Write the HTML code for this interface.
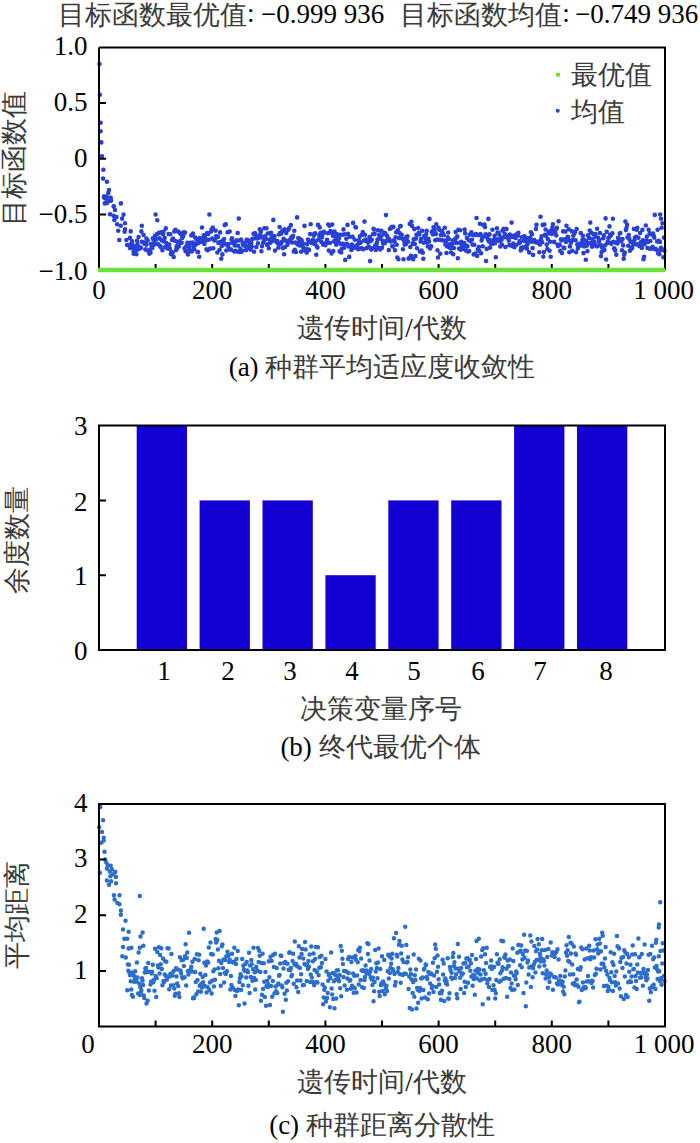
<!DOCTYPE html>
<html><head><meta charset="utf-8"><style>
html,body{margin:0;padding:0;background:#fff;}
body{width:700px;height:1143px;overflow:hidden;font-family:"Liberation Serif",serif;}
svg{display:block;}
</style></head><body>
<svg width="700" height="1143" viewBox="0 0 700 1143" font-family="Liberation Serif">
<text x="58" y="24" font-size="27"><tspan fill="#3a3a3a">目标函数最优值</tspan></text>
<text x="247" y="22" font-size="27">:</text>
<text x="261" y="23" font-size="27">−0.999 936</text>
<text x="399.6" y="24" font-size="27"><tspan fill="#3a3a3a">目标函数均值</tspan></text>
<text x="562.3" y="22" font-size="27">:</text>
<text x="575" y="23" font-size="27">−0.749 936</text>
<path d="M99.5 64.0h0M99.9 94.8h0M100.6 122.8h0M100.6 131.2h0M101.3 142.4h0M102.0 156.4h0M103.4 169.7h0M103.1 178.6h0M106.9 181.7h0M109.0 190.0h0M108.3 192.9h0M104.1 196.4h0M105.5 198.5h0M110.4 197.8h0M107.6 201.3h0M104.8 203.4h0M111.1 200.6h0M120.9 203.4h0M113.9 206.2h0M103.9 197.5h0M106.4 196.8h0M110.7 197.9h0M109.3 200.7h0M105.0 203.2h0M107.1 202.9h0M113.6 206.4h0M115.0 210.0h0M110.0 214.3h0M113.6 215.7h0M116.4 217.1h0M123.6 214.6h0M122.1 218.6h0M114.3 220.0h0M117.1 224.3h0M125.0 223.2h0M120.7 225.7h0M118.2 230.7h0M125.0 229.3h0M124.6 231.8h0M130.7 231.4h0M141.8 225.7h0M119.3 240.0h0M130.0 237.9h0M126.4 240.0h0M132.1 241.4h0M137.1 240.7h0M127.1 245.0h0M130.0 247.9h0M133.6 251.4h0M138.6 249.3h0M133.6 253.6h0M136.4 254.3h0M141.4 231.4h0M143.6 235.0h0M146.4 238.6h0M144.3 242.9h0M145.7 249.3h0M149.3 253.6h0M130.7 244.4h0M131.8 242.8h0M133.0 245.9h0M134.1 249.4h0M135.2 246.9h0M136.4 249.9h0M137.5 244.1h0M138.6 237.0h0M139.8 247.2h0M140.9 247.9h0M142.0 241.7h0M143.1 242.4h0M144.3 243.8h0M145.4 249.6h0M146.5 244.6h0M147.7 240.5h0M148.8 251.9h0M149.9 250.1h0M150.5 252.7h0M151.1 244.1h0M151.6 246.9h0M152.2 248.3h0M152.8 238.3h0M153.3 239.7h0M153.9 244.9h0M154.5 243.5h0M155.0 235.7h0M155.6 214.5h0M156.2 239.4h0M156.7 234.4h0M157.3 220.3h0M157.9 244.0h0M158.4 244.5h0M159.0 232.9h0M159.6 238.4h0M160.1 246.1h0M160.7 246.9h0M161.3 232.2h0M161.8 240.5h0M162.4 250.3h0M163.0 234.2h0M163.5 231.9h0M164.1 241.4h0M164.7 237.9h0M165.2 247.0h0M165.8 228.4h0M166.4 243.1h0M166.9 244.3h0M167.5 248.5h0M168.1 248.6h0M168.6 234.0h0M169.2 244.5h0M169.8 248.4h0M170.3 234.2h0M170.9 254.1h0M171.4 251.8h0M172.0 240.0h0M172.6 252.8h0M173.1 238.6h0M173.7 257.0h0M174.3 231.4h0M174.8 240.8h0M175.4 229.8h0M176.0 250.1h0M176.5 246.4h0M177.1 248.4h0M177.7 241.9h0M178.2 231.6h0M178.8 246.5h0M179.4 241.4h0M179.9 233.0h0M180.5 242.9h0M181.1 234.5h0M181.6 242.7h0M182.2 237.9h0M182.8 234.9h0M183.3 236.0h0M183.9 232.3h0M184.5 248.4h0M185.0 232.6h0M185.6 251.3h0M186.2 246.6h0M186.7 251.1h0M187.3 242.9h0M187.9 254.5h0M188.4 251.6h0M189.0 247.0h0M189.6 249.3h0M190.1 242.8h0M190.7 243.3h0M191.3 235.4h0M191.8 251.4h0M192.4 242.5h0M193.0 233.6h0M193.5 246.2h0M194.1 249.0h0M194.7 244.0h0M195.2 237.6h0M195.8 244.6h0M196.4 239.6h0M196.9 239.0h0M197.5 251.9h0M198.1 252.0h0M198.6 242.9h0M199.2 256.7h0M199.7 238.1h0M200.3 241.9h0M200.9 238.9h0M201.4 239.5h0M202.0 227.5h0M202.6 238.2h0M203.1 240.3h0M203.7 235.3h0M204.3 243.9h0M204.8 236.8h0M205.4 238.9h0M206.0 240.5h0M206.5 249.4h0M207.1 233.1h0M207.7 250.2h0M208.2 234.1h0M208.8 239.7h0M209.4 214.5h0M209.9 248.8h0M210.5 248.5h0M211.1 231.4h0M211.6 229.4h0M212.2 238.6h0M212.8 227.6h0M213.3 248.3h0M213.9 239.8h0M214.5 240.5h0M215.0 239.5h0M215.6 230.6h0M216.2 236.1h0M216.7 236.3h0M217.3 252.5h0M217.9 236.9h0M218.4 243.0h0M219.0 242.4h0M219.6 249.8h0M220.1 232.4h0M220.7 241.7h0M221.3 258.7h0M221.8 246.0h0M222.4 254.4h0M223.0 240.6h0M223.5 241.9h0M224.1 239.1h0M224.7 225.1h0M225.2 244.3h0M225.8 224.4h0M226.3 250.5h0M226.9 244.0h0M227.5 232.3h0M228.0 246.0h0M228.6 244.0h0M229.2 248.7h0M229.7 231.6h0M230.3 249.7h0M230.9 249.4h0M231.4 239.7h0M232.0 238.3h0M232.6 242.6h0M233.1 243.2h0M233.7 242.0h0M234.3 251.4h0M234.8 245.5h0M235.4 250.8h0M236.0 241.3h0M236.5 240.4h0M237.1 251.5h0M237.7 233.0h0M238.2 245.7h0M238.8 218.6h0M239.4 252.0h0M239.9 240.5h0M240.5 249.0h0M241.1 239.5h0M241.6 251.8h0M242.2 250.7h0M242.8 243.9h0M243.3 245.1h0M243.9 242.7h0M244.5 243.8h0M245.0 242.7h0M245.6 246.2h0M246.2 250.1h0M246.7 239.7h0M247.3 248.1h0M247.9 240.1h0M248.4 241.0h0M249.0 245.4h0M249.6 245.0h0M250.1 247.8h0M250.7 249.6h0M251.3 243.0h0M251.8 246.6h0M252.4 238.9h0M253.0 238.7h0M253.5 233.7h0M254.1 251.7h0M254.7 233.3h0M255.2 233.4h0M255.8 235.2h0M256.3 247.0h0M256.9 238.4h0M257.5 238.3h0M258.0 243.3h0M258.6 236.8h0M259.2 237.6h0M259.7 229.3h0M260.3 234.3h0M260.9 231.4h0M261.4 251.2h0M262.0 246.2h0M262.6 237.6h0M263.1 242.7h0M263.7 241.8h0M264.3 228.3h0M264.8 236.3h0M265.4 237.9h0M266.0 238.9h0M266.5 228.3h0M267.1 244.9h0M267.7 233.5h0M268.2 244.0h0M268.8 248.2h0M269.4 233.2h0M269.9 239.8h0M270.5 242.8h0M271.1 232.7h0M271.6 237.1h0M272.2 237.2h0M272.8 240.7h0M273.3 219.9h0M273.9 237.7h0M274.5 236.0h0M275.0 250.6h0M275.6 240.6h0M276.2 241.8h0M276.7 241.4h0M277.3 241.0h0M277.9 243.4h0M278.4 247.7h0M279.0 234.5h0M279.6 227.0h0M280.1 233.0h0M280.7 244.0h0M281.3 233.6h0M281.8 242.0h0M282.4 230.9h0M282.9 248.1h0M283.5 238.9h0M284.1 254.3h0M284.6 229.2h0M285.2 247.0h0M285.8 240.6h0M286.3 233.1h0M286.9 241.4h0M287.5 244.8h0M288.0 242.1h0M288.6 229.6h0M289.2 228.1h0M289.7 240.6h0M290.3 239.4h0M290.9 225.1h0M291.4 237.2h0M292.0 242.5h0M292.6 237.6h0M293.1 235.9h0M293.7 251.5h0M294.3 230.7h0M294.8 249.7h0M295.4 242.6h0M296.0 252.0h0M296.5 243.3h0M297.1 217.4h0M297.7 244.5h0M298.2 238.0h0M298.8 242.2h0M299.4 245.5h0M299.9 238.9h0M300.5 239.7h0M301.1 251.7h0M301.6 240.2h0M302.2 242.8h0M302.8 246.8h0M303.3 243.5h0M303.9 249.4h0M304.5 225.9h0M305.0 250.4h0M305.6 249.0h0M306.2 248.8h0M306.7 252.6h0M307.3 244.1h0M307.9 239.6h0M308.4 249.5h0M309.0 249.9h0M309.6 241.3h0M310.1 234.1h0M310.7 224.3h0M311.2 241.2h0M311.8 243.0h0M312.4 242.4h0M312.9 239.8h0M313.5 234.4h0M314.1 235.4h0M314.6 244.0h0M315.2 233.2h0M315.8 241.4h0M316.3 254.7h0M316.9 246.4h0M317.5 247.6h0M318.0 224.9h0M318.6 239.5h0M319.2 235.5h0M319.7 227.4h0M320.3 233.4h0M320.9 232.8h0M321.4 241.9h0M322.0 237.3h0M322.6 234.4h0M323.1 244.6h0M323.7 231.7h0M324.3 232.3h0M324.8 243.5h0M325.4 245.2h0M326.0 243.5h0M326.5 242.5h0M327.1 239.7h0M327.7 233.2h0M328.2 224.5h0M328.8 250.6h0M329.4 225.7h0M329.9 243.0h0M330.5 231.0h0M331.1 232.6h0M331.6 253.5h0M332.2 224.6h0M332.8 235.8h0M333.3 251.1h0M333.9 241.4h0M334.5 231.6h0M335.0 235.1h0M335.6 239.4h0M336.2 244.8h0M336.7 234.1h0M337.3 236.6h0M337.9 237.6h0M338.4 242.0h0M339.0 238.3h0M339.6 251.4h0M340.1 234.7h0M340.7 243.9h0M341.2 252.5h0M341.8 248.8h0M342.4 234.8h0M342.9 243.9h0M343.5 229.4h0M344.1 247.8h0M344.6 234.3h0M345.2 259.9h0M345.8 244.3h0M346.3 238.8h0M346.9 243.7h0M347.5 224.9h0M348.0 233.9h0M348.6 246.5h0M349.2 256.9h0M349.7 236.8h0M350.3 245.3h0M350.9 246.6h0M351.4 249.9h0M352.0 244.5h0M352.6 236.9h0M353.1 222.9h0M353.7 246.9h0M354.3 247.7h0M354.8 239.8h0M355.4 227.0h0M356.0 227.5h0M356.5 245.5h0M357.1 246.9h0M357.7 244.5h0M358.2 249.3h0M358.8 240.4h0M359.4 241.2h0M359.9 236.4h0M360.5 242.8h0M361.1 248.4h0M361.6 235.0h0M362.2 248.6h0M362.8 232.0h0M363.3 249.2h0M363.9 240.5h0M364.5 221.6h0M365.0 234.7h0M365.6 239.5h0M366.2 241.1h0M366.7 248.1h0M367.3 240.9h0M367.9 242.6h0M368.4 247.1h0M369.0 246.9h0M369.5 237.1h0M370.1 261.1h0M370.7 241.1h0M371.2 249.6h0M371.8 239.8h0M372.4 248.3h0M372.9 234.3h0M373.5 228.7h0M374.1 229.5h0M374.6 233.9h0M375.2 245.6h0M375.8 249.9h0M376.3 244.7h0M376.9 242.9h0M377.5 239.5h0M378.0 230.3h0M378.6 248.0h0M379.2 235.0h0M379.7 238.4h0M380.3 249.5h0M380.9 236.6h0M381.4 230.9h0M382.0 247.8h0M382.6 240.7h0M383.1 243.6h0M383.7 234.1h0M384.3 232.8h0M384.8 243.2h0M385.4 233.4h0M386.0 215.1h0M386.5 240.9h0M387.1 236.0h0M387.7 239.7h0M388.2 238.3h0M388.8 250.1h0M389.4 239.4h0M389.9 229.0h0M390.5 241.5h0M391.1 227.9h0M391.6 227.0h0M392.2 246.0h0M392.8 246.5h0M393.3 226.9h0M393.9 240.2h0M394.5 241.6h0M395.0 250.3h0M395.6 237.2h0M396.1 232.3h0M396.7 244.8h0M397.3 257.5h0M397.8 230.3h0M398.4 259.3h0M399.0 238.1h0M399.5 233.0h0M400.1 226.4h0M400.7 226.1h0M401.2 236.4h0M401.8 234.7h0M402.4 238.8h0M402.9 249.3h0M403.5 259.3h0M404.1 240.9h0M404.6 244.6h0M405.2 240.9h0M405.8 244.3h0M406.3 237.1h0M406.9 237.9h0M407.5 236.2h0M408.0 241.8h0M408.6 258.6h0M409.2 258.1h0M409.7 224.0h0M410.3 247.0h0M410.9 255.7h0M411.4 221.8h0M412.0 226.0h0M412.6 243.6h0M413.1 259.3h0M413.7 239.4h0M414.3 229.1h0M414.8 244.0h0M415.4 256.1h0M416.0 238.6h0M416.5 234.7h0M417.1 248.2h0M417.7 234.2h0M418.2 228.0h0M418.8 232.9h0M419.4 234.2h0M419.9 251.6h0M420.5 241.6h0M421.1 238.9h0M421.6 250.5h0M422.2 230.7h0M422.8 252.8h0M423.3 258.8h0M423.9 242.8h0M424.4 235.7h0M425.0 236.3h0M425.6 238.8h0M426.1 234.2h0M426.7 230.7h0M427.3 241.9h0M427.8 246.4h0M428.4 238.7h0M429.0 241.6h0M429.5 218.9h0M430.1 248.5h0M430.7 246.3h0M431.2 246.4h0M431.8 232.0h0M432.4 231.4h0M432.9 234.4h0M433.5 227.3h0M434.1 228.5h0M434.6 230.2h0M435.2 240.3h0M435.8 233.9h0M436.3 224.3h0M436.9 239.6h0M437.5 250.3h0M438.0 257.5h0M438.6 227.9h0M439.2 229.7h0M439.7 239.7h0M440.3 253.7h0M440.9 234.9h0M441.4 240.1h0M442.0 230.9h0M442.6 233.1h0M443.1 240.3h0M443.7 234.9h0M444.3 240.8h0M444.8 227.8h0M445.4 244.6h0M446.0 240.9h0M446.5 253.0h0M447.1 246.5h0M447.7 237.4h0M448.2 232.5h0M448.8 239.1h0M449.4 244.2h0M449.9 247.7h0M450.5 247.9h0M451.1 252.5h0M451.6 244.3h0M452.2 243.8h0M452.8 240.6h0M453.3 254.2h0M453.9 248.0h0M454.4 239.6h0M455.0 240.0h0M455.6 232.0h0M456.1 242.9h0M456.7 237.4h0M457.3 236.4h0M457.8 258.2h0M458.4 229.8h0M459.0 248.5h0M459.5 242.7h0M460.1 230.2h0M460.7 249.7h0M461.2 241.8h0M461.8 246.2h0M462.4 245.2h0M462.9 248.8h0M463.5 246.6h0M464.1 243.0h0M464.6 229.5h0M465.2 233.4h0M465.8 250.4h0M466.3 245.5h0M466.9 238.1h0M467.5 246.3h0M468.0 251.6h0M468.6 240.0h0M469.2 251.1h0M469.7 234.7h0M470.3 241.1h0M470.9 234.0h0M471.4 232.3h0M472.0 239.8h0M472.6 244.6h0M473.1 235.0h0M473.7 254.4h0M474.3 244.8h0M474.8 235.0h0M475.4 253.6h0M476.0 234.1h0M476.5 218.0h0M477.1 255.9h0M477.7 249.4h0M478.2 235.2h0M478.8 247.1h0M479.4 251.0h0M479.9 223.8h0M480.5 234.1h0M481.1 253.3h0M481.6 240.5h0M482.2 238.1h0M482.7 246.2h0M483.3 225.1h0M483.9 236.6h0M484.4 224.5h0M485.0 227.1h0M485.6 234.3h0M486.1 261.0h0M486.7 248.9h0M487.3 237.6h0M487.8 239.5h0M488.4 218.9h0M489.0 241.6h0M489.5 234.4h0M490.1 247.6h0M490.7 240.3h0M491.2 243.7h0M491.8 243.8h0M492.4 229.7h0M492.9 240.6h0M493.5 243.6h0M494.1 239.7h0M494.6 235.9h0M495.2 242.9h0M495.8 257.3h0M496.3 240.3h0M496.9 228.3h0M497.5 232.8h0M498.0 239.4h0M498.6 232.9h0M499.2 234.5h0M499.7 241.3h0M500.3 246.4h0M500.9 237.4h0M501.4 240.0h0M502.0 244.7h0M502.6 230.6h0M503.1 230.4h0M503.7 228.7h0M504.3 237.2h0M504.8 234.0h0M505.4 247.0h0M506.0 229.0h0M506.5 229.1h0M507.1 237.4h0M507.7 236.3h0M508.2 235.7h0M508.8 240.6h0M509.4 245.1h0M509.9 234.6h0M510.5 236.1h0M511.0 236.8h0M511.6 222.6h0M512.2 246.0h0M512.7 237.0h0M513.3 243.6h0M513.9 235.5h0M514.4 247.3h0M515.0 235.6h0M515.6 237.9h0M516.1 245.0h0M516.7 234.3h0M517.3 234.3h0M517.8 235.8h0M518.4 232.8h0M519.0 243.2h0M519.5 241.1h0M520.1 242.2h0M520.7 250.4h0M521.2 247.9h0M521.8 237.2h0M522.4 248.6h0M522.9 247.3h0M523.5 236.5h0M524.1 240.8h0M524.6 236.2h0M525.2 237.5h0M525.8 241.2h0M526.3 246.1h0M526.9 248.6h0M527.5 244.3h0M528.0 238.4h0M528.6 240.0h0M529.2 252.4h0M529.7 240.2h0M530.3 237.5h0M530.9 232.3h0M531.4 241.7h0M532.0 234.3h0M532.6 248.1h0M533.1 254.9h0M533.7 241.0h0M534.3 240.1h0M534.8 241.2h0M535.4 242.2h0M536.0 228.9h0M536.5 224.8h0M537.1 242.6h0M537.6 241.9h0M538.2 241.7h0M538.8 242.9h0M539.3 252.2h0M539.9 244.6h0M540.5 216.8h0M541.0 239.5h0M541.6 236.4h0M542.2 242.3h0M542.7 224.9h0M543.3 256.6h0M543.9 252.0h0M544.4 224.5h0M545.0 234.7h0M545.6 229.5h0M546.1 236.1h0M546.7 244.6h0M547.3 249.0h0M547.8 239.1h0M548.4 233.2h0M549.0 231.7h0M549.5 250.7h0M550.1 241.7h0M550.7 256.8h0M551.2 230.5h0M551.8 234.0h0M552.4 227.5h0M552.9 224.2h0M553.5 229.6h0M554.1 241.9h0M554.6 230.5h0M555.2 232.7h0M555.8 229.5h0M556.3 235.4h0M556.9 227.9h0M557.5 244.6h0M558.0 246.1h0M558.6 221.3h0M559.2 244.9h0M559.7 245.1h0M560.3 250.9h0M560.9 239.3h0M561.4 240.5h0M562.0 253.0h0M562.6 239.6h0M563.1 231.4h0M563.7 247.6h0M564.3 248.2h0M564.8 239.3h0M565.4 231.6h0M566.0 241.9h0M566.5 225.7h0M567.1 240.0h0M567.6 236.8h0M568.2 237.4h0M568.8 229.3h0M569.3 252.3h0M569.9 246.4h0M570.5 241.4h0M571.0 242.8h0M571.6 231.0h0M572.2 250.7h0M572.7 240.1h0M573.3 235.8h0M573.9 234.2h0M574.4 233.2h0M575.0 232.1h0M575.6 240.2h0M576.1 252.2h0M576.7 229.0h0M577.3 244.6h0M577.8 248.5h0M578.4 244.7h0M579.0 245.6h0M579.5 243.6h0M580.1 245.7h0M580.7 233.0h0M581.2 244.7h0M581.8 243.4h0M582.4 239.9h0M582.9 235.9h0M583.5 253.1h0M584.1 246.5h0M584.6 240.1h0M585.2 244.8h0M585.8 259.7h0M586.3 241.3h0M586.9 245.6h0M587.5 251.1h0M588.0 235.4h0M588.6 243.3h0M589.2 237.9h0M589.7 230.6h0M590.3 222.6h0M590.9 242.9h0M591.4 232.8h0M592.0 246.8h0M592.6 239.2h0M593.1 244.3h0M593.7 234.4h0M594.2 241.7h0M594.8 244.6h0M595.4 234.0h0M595.9 236.8h0M596.5 246.2h0M597.1 228.7h0M597.6 246.2h0M598.2 237.7h0M598.8 241.7h0M599.3 240.0h0M599.9 233.0h0M600.5 244.7h0M601.0 256.1h0M601.6 252.0h0M602.2 247.7h0M602.7 246.8h0M603.3 238.3h0M603.9 235.4h0M604.4 250.1h0M605.0 245.4h0M605.6 218.4h0M606.1 259.5h0M606.7 231.8h0M607.3 243.1h0M607.8 241.5h0M608.4 237.8h0M609.0 237.7h0M609.5 226.4h0M610.1 234.9h0M610.7 235.8h0M611.2 243.7h0M611.8 242.5h0M612.4 233.2h0M612.9 218.8h0M613.5 241.9h0M614.1 248.4h0M614.6 249.0h0M615.2 250.5h0M615.8 242.7h0M616.3 254.7h0M616.9 242.2h0M617.5 243.5h0M618.0 237.7h0M618.6 239.9h0M619.2 239.6h0M619.7 233.6h0M620.3 233.1h0M620.9 239.4h0M621.4 241.3h0M622.0 250.2h0M622.5 239.1h0M623.1 245.4h0M623.7 258.7h0M624.2 254.8h0M624.8 252.6h0M625.4 221.6h0M625.9 230.1h0M626.5 228.0h0M627.1 224.8h0M627.6 237.4h0M628.2 245.8h0M628.8 235.0h0M629.3 238.9h0M629.9 250.7h0M630.5 241.6h0M631.0 249.0h0M631.6 247.5h0M632.2 248.1h0M632.7 242.6h0M633.3 244.6h0M633.9 229.0h0M634.4 240.2h0M635.0 237.5h0M635.6 244.2h0M636.1 236.9h0M636.7 229.7h0M637.3 227.7h0M637.8 244.8h0M638.4 237.7h0M639.0 243.7h0M639.5 246.2h0M640.1 233.0h0M640.7 242.4h0M641.2 246.7h0M641.8 247.9h0M642.4 229.9h0M642.9 240.4h0M643.5 259.2h0M644.1 256.8h0M644.6 244.2h0M645.2 240.9h0M645.8 225.5h0M646.3 240.2h0M646.9 236.6h0M647.5 248.0h0M648.0 241.9h0M648.6 229.8h0M649.2 248.6h0M649.7 233.3h0M650.3 241.0h0M650.9 234.1h0M651.4 234.4h0M652.0 248.7h0M652.5 246.7h0M653.1 233.5h0M653.7 235.8h0M654.2 237.6h0M654.8 214.9h0M655.4 248.9h0M655.9 249.5h0M656.5 249.6h0M657.1 241.4h0M657.6 229.7h0M658.2 253.5h0M658.8 240.8h0M659.3 254.3h0M659.9 241.9h0M660.5 250.0h0M661.0 247.8h0M661.6 227.8h0M662.2 249.3h0M662.7 249.8h0M663.3 257.3h0M663.9 237.6h0M664.4 250.7h0M660.2 214.5h0M661.0 218.8h0M662.5 223.2h0" stroke="#2840d4" stroke-width="4.6" stroke-linecap="round" fill="none"/>
<g stroke="#000" stroke-width="2" fill="none">
<path d="M99 47.5H665V270M99 47.5V270"/>
<path d="M155.6 270v-6M212.2 270v-6M268.8 270v-6M325.4 270v-6M382.0 270v-6M438.6 270v-6M495.2 270v-6M551.8 270v-6M608.4 270v-6M99 103.1h7M99 158.8h7M99 214.4h7"/>
</g>
<path d="M98 270H665" stroke="#6ee03a" stroke-width="4.5"/>
<text x="87.5" y="54.5" font-size="27" text-anchor="end">1.0</text>
<text x="87.5" y="110.6" font-size="27" text-anchor="end">0.5</text>
<text x="87.5" y="167.2" font-size="27" text-anchor="end">0</text>
<text x="87.5" y="222.9" font-size="27" text-anchor="end">−0.5</text>
<text x="87.5" y="279.5" font-size="27" text-anchor="end">−1.0</text>
<text x="99.0" y="298.5" font-size="27" text-anchor="middle">0</text>
<text x="212.2" y="298.5" font-size="27" text-anchor="middle">200</text>
<text x="325.4" y="298.5" font-size="27" text-anchor="middle">400</text>
<text x="438.6" y="298.5" font-size="27" text-anchor="middle">600</text>
<text x="551.8" y="298.5" font-size="27" text-anchor="middle">800</text>
<text x="663.5" y="298.5" font-size="27" text-anchor="middle">1 000</text>
<text x="382" y="337" font-size="27" text-anchor="middle"><tspan fill="#3a3a3a">遗传时间</tspan>/<tspan fill="#3a3a3a">代数</tspan></text>
<text x="382" y="376" font-size="27" text-anchor="middle">(a) <tspan fill="#3a3a3a">种群平均适应度收敛性</tspan></text>
<text transform="translate(23 158) rotate(-90)" font-size="27" text-anchor="middle"><tspan fill="#3a3a3a">目标函数值</tspan></text>
<rect x="556" y="72.8" width="4" height="3.8" fill="#6ee03a"/>
<circle cx="557.7" cy="110.7" r="2" fill="#2840d4"/>
<text x="571" y="84" font-size="27"><tspan fill="#3a3a3a">最优值</tspan></text>
<text x="571" y="121" font-size="27"><tspan fill="#3a3a3a">均值</tspan></text>
<rect x="136.7" y="425.6" width="50.3" height="224.4" fill="#1300d2"/>
<rect x="199.6" y="500.4" width="50.3" height="149.6" fill="#1300d2"/>
<rect x="262.5" y="500.4" width="50.3" height="149.6" fill="#1300d2"/>
<rect x="325.4" y="575.2" width="50.3" height="74.8" fill="#1300d2"/>
<rect x="388.3" y="500.4" width="50.3" height="149.6" fill="#1300d2"/>
<rect x="451.2" y="500.4" width="50.3" height="149.6" fill="#1300d2"/>
<rect x="514.1" y="425.6" width="50.3" height="224.4" fill="#1300d2"/>
<rect x="577.0" y="425.6" width="50.3" height="224.4" fill="#1300d2"/>
<path d="M99 425.6H665V650H99ZM99 575.2h7M99 500.4h7" stroke="#000" stroke-width="2" fill="none"/>
<text x="87.5" y="659.5" font-size="27" text-anchor="end">0</text>
<text x="87.5" y="585.2" font-size="27" text-anchor="end">1</text>
<text x="87.5" y="510.9" font-size="27" text-anchor="end">2</text>
<text x="87.5" y="434.6" font-size="27" text-anchor="end">3</text>
<text x="164.0" y="680" font-size="27" text-anchor="middle">1</text>
<text x="228.0" y="680" font-size="27" text-anchor="middle">2</text>
<text x="290.0" y="680" font-size="27" text-anchor="middle">3</text>
<text x="352.0" y="680" font-size="27" text-anchor="middle">4</text>
<text x="414.0" y="680" font-size="27" text-anchor="middle">5</text>
<text x="478.0" y="680" font-size="27" text-anchor="middle">6</text>
<text x="540.0" y="680" font-size="27" text-anchor="middle">7</text>
<text x="606.0" y="680" font-size="27" text-anchor="middle">8</text>
<text x="380.5" y="718" font-size="27" text-anchor="middle"><tspan fill="#3a3a3a">决策变量序号</tspan></text>
<text x="380.5" y="756" font-size="27" text-anchor="middle">(b) <tspan fill="#3a3a3a">终代最优个体</tspan></text>
<text transform="translate(26 540) rotate(-90)" font-size="27" text-anchor="middle"><tspan fill="#3a3a3a">余度数量</tspan></text>
<path d="M100.3 807.0h0M103.1 820.3h0M99.2 827.3h0M102.0 831.9h0M103.7 837.8h0M103.7 840.6h0M101.3 842.7h0M104.5 851.8h0M99.9 872.8h0M105.1 859.5h0M106.2 862.3h0M107.6 865.1h0M110.7 865.8h0M106.9 868.6h0M111.8 869.3h0M109.7 871.4h0M115.3 872.1h0M113.2 874.2h0M110.4 876.3h0M116.0 877.0h0M106.9 880.5h0M111.1 881.2h0M109.0 884.7h0M116.0 883.3h0M139.8 895.9h0M113.9 895.2h0M119.5 895.2h0M114.6 899.4h0M117.4 902.9h0M119.5 904.3h0M120.9 910.6h0M120.9 914.8h0M125.5 920.7h0M123.0 929.6h0M128.6 931.7h0M124.4 938.7h0M127.2 938.7h0M123.0 947.1h0M128.6 948.5h0M131.4 947.8h0M122.3 956.2h0M125.8 957.6h0M142.6 932.4h0M140.5 936.6h0M139.8 947.8h0M143.3 945.7h0M127.3 990.2h0M127.9 964.6h0M128.4 970.7h0M129.0 964.7h0M129.6 973.3h0M130.1 975.2h0M130.7 981.2h0M131.3 989.4h0M131.8 995.0h0M132.4 972.6h0M133.0 996.8h0M133.5 975.1h0M134.1 981.7h0M134.7 978.1h0M135.2 971.2h0M135.8 977.5h0M136.4 981.4h0M136.9 962.4h0M137.5 977.6h0M138.1 993.5h0M138.6 952.6h0M139.2 983.6h0M139.8 995.0h0M140.3 987.2h0M140.9 992.1h0M141.4 990.2h0M142.0 978.3h0M142.6 980.5h0M143.1 985.1h0M143.7 995.6h0M144.3 997.9h0M144.8 972.6h0M145.4 968.6h0M146.0 968.1h0M146.5 1003.4h0M147.1 972.0h0M147.7 1000.7h0M148.2 962.9h0M148.8 990.5h0M149.4 971.7h0M149.9 971.9h0M150.5 984.5h0M151.1 981.4h0M151.6 973.4h0M152.2 971.8h0M152.8 964.7h0M153.3 982.3h0M153.9 980.0h0M154.5 990.7h0M155.0 948.7h0M155.6 976.1h0M156.2 996.9h0M156.7 977.9h0M157.3 952.1h0M157.9 965.6h0M158.4 967.4h0M159.0 947.3h0M159.6 973.6h0M160.1 954.9h0M160.7 964.2h0M161.3 948.3h0M161.8 969.0h0M162.4 985.3h0M163.0 958.4h0M163.5 981.0h0M164.1 981.9h0M164.7 974.5h0M165.2 961.2h0M165.8 975.8h0M166.4 961.7h0M166.9 979.4h0M167.5 948.3h0M168.1 948.6h0M168.6 948.5h0M169.2 989.3h0M169.8 976.6h0M170.3 973.9h0M170.9 985.5h0M171.4 954.1h0M172.0 973.6h0M172.6 975.4h0M173.1 985.2h0M173.7 970.9h0M174.3 988.5h0M174.8 995.7h0M175.4 993.8h0M176.0 968.2h0M176.5 976.6h0M177.1 983.4h0M177.7 969.4h0M178.2 985.9h0M178.8 993.2h0M179.4 997.1h0M179.9 957.3h0M180.5 970.4h0M181.1 973.2h0M181.6 960.2h0M182.2 977.3h0M182.8 978.2h0M183.3 959.8h0M183.9 965.9h0M184.5 977.2h0M185.0 956.2h0M185.6 944.3h0M186.2 985.5h0M186.7 958.1h0M187.3 952.5h0M187.9 971.1h0M188.4 974.5h0M189.0 932.8h0M189.6 971.2h0M190.1 970.7h0M190.7 968.9h0M191.3 966.8h0M191.8 971.6h0M192.4 961.7h0M193.0 998.2h0M193.5 997.5h0M194.1 997.9h0M194.7 959.0h0M195.2 972.1h0M195.8 982.1h0M196.4 994.2h0M196.9 954.2h0M197.5 980.0h0M198.1 991.6h0M198.6 960.2h0M199.2 954.8h0M199.7 985.8h0M200.3 973.7h0M200.9 991.8h0M201.4 983.8h0M202.0 987.5h0M202.6 977.0h0M203.1 982.2h0M203.7 928.7h0M204.3 962.8h0M204.8 986.0h0M205.4 975.1h0M206.0 965.5h0M206.5 992.6h0M207.1 961.6h0M207.7 987.3h0M208.2 962.4h0M208.8 947.4h0M209.4 990.1h0M209.9 982.5h0M210.5 942.5h0M211.1 953.9h0M211.6 993.4h0M212.2 980.7h0M212.8 954.4h0M213.3 971.2h0M213.9 986.4h0M214.5 969.5h0M215.0 979.7h0M215.6 938.9h0M216.2 942.5h0M216.7 932.6h0M217.3 940.0h0M217.9 949.6h0M218.4 968.2h0M219.0 960.7h0M219.6 930.9h0M220.1 974.1h0M220.7 985.8h0M221.3 962.9h0M221.8 946.2h0M222.4 944.6h0M223.0 968.1h0M223.5 959.5h0M224.1 982.5h0M224.7 973.1h0M225.2 959.9h0M225.8 974.0h0M226.3 956.2h0M226.9 971.3h0M227.5 951.8h0M228.0 956.3h0M228.6 954.9h0M229.2 962.1h0M229.7 959.8h0M230.3 989.6h0M230.9 976.1h0M231.4 985.1h0M232.0 953.8h0M232.6 987.5h0M233.1 962.5h0M233.7 961.8h0M234.3 947.7h0M234.8 990.0h0M235.4 995.9h0M236.0 964.0h0M236.5 959.1h0M237.1 991.0h0M237.7 951.1h0M238.2 989.5h0M238.8 1005.2h0M239.4 982.1h0M239.9 978.0h0M240.5 974.2h0M241.1 990.1h0M241.6 976.2h0M242.2 959.0h0M242.8 985.2h0M243.3 965.7h0M243.9 969.7h0M244.5 1003.6h0M245.0 971.1h0M245.6 963.7h0M246.2 977.4h0M246.7 962.1h0M247.3 970.4h0M247.9 972.3h0M248.4 985.7h0M249.0 952.7h0M249.6 993.1h0M250.1 965.6h0M250.7 977.1h0M251.3 960.0h0M251.8 964.2h0M252.4 980.7h0M253.0 969.3h0M253.5 947.8h0M254.1 978.1h0M254.7 972.2h0M255.2 989.4h0M255.8 980.0h0M256.3 966.7h0M256.9 971.1h0M257.5 970.5h0M258.0 948.1h0M258.6 961.9h0M259.2 950.8h0M259.7 955.8h0M260.3 972.1h0M260.9 1000.7h0M261.4 963.1h0M262.0 994.7h0M262.6 953.7h0M263.1 988.9h0M263.7 963.2h0M264.3 981.7h0M264.8 996.9h0M265.4 971.9h0M266.0 1005.8h0M266.5 986.0h0M267.1 981.0h0M267.7 986.9h0M268.2 984.3h0M268.8 961.2h0M269.4 977.2h0M269.9 1005.1h0M270.5 956.7h0M271.1 986.0h0M271.6 960.9h0M272.2 996.8h0M272.8 980.9h0M273.3 954.7h0M273.9 967.0h0M274.5 993.2h0M275.0 953.8h0M275.6 986.5h0M276.2 991.2h0M276.7 968.0h0M277.3 992.9h0M277.9 984.4h0M278.4 983.5h0M279.0 975.7h0M279.6 974.9h0M280.1 963.6h0M280.7 955.6h0M281.3 956.0h0M281.8 985.5h0M282.4 987.2h0M282.9 1011.8h0M283.5 968.4h0M284.1 963.1h0M284.6 993.8h0M285.2 962.0h0M285.8 999.8h0M286.3 982.8h0M286.9 990.4h0M287.5 963.8h0M288.0 981.2h0M288.6 969.8h0M289.2 952.8h0M289.7 952.2h0M290.3 970.2h0M290.9 967.9h0M291.4 976.3h0M292.0 974.9h0M292.6 961.1h0M293.1 953.8h0M293.7 983.7h0M294.3 963.9h0M294.8 941.4h0M295.4 965.2h0M296.0 963.7h0M296.5 987.3h0M297.1 980.5h0M297.7 966.6h0M298.2 991.9h0M298.8 946.3h0M299.4 957.6h0M299.9 968.0h0M300.5 980.6h0M301.1 974.3h0M301.6 953.9h0M302.2 948.9h0M302.8 985.2h0M303.3 958.4h0M303.9 985.0h0M304.5 964.0h0M305.0 942.0h0M305.6 949.4h0M306.2 965.2h0M306.7 981.0h0M307.3 965.1h0M307.9 968.9h0M308.4 960.9h0M309.0 966.8h0M309.6 954.6h0M310.1 981.9h0M310.7 974.4h0M311.2 946.6h0M311.8 977.4h0M312.4 982.0h0M312.9 961.2h0M313.5 953.4h0M314.1 985.3h0M314.6 970.1h0M315.2 958.9h0M315.8 946.9h0M316.3 982.1h0M316.9 971.9h0M317.5 982.4h0M318.0 947.2h0M318.6 975.2h0M319.2 968.1h0M319.7 957.1h0M320.3 967.2h0M320.9 967.3h0M321.4 955.7h0M322.0 963.1h0M322.6 984.5h0M323.1 1004.2h0M323.7 997.4h0M324.3 989.7h0M324.8 987.5h0M325.4 959.1h0M326.0 1001.4h0M326.5 971.6h0M327.1 997.9h0M327.7 993.0h0M328.2 980.8h0M328.8 975.1h0M329.4 974.3h0M329.9 1007.3h0M330.5 978.1h0M331.1 952.5h0M331.6 988.6h0M332.2 994.5h0M332.8 973.0h0M333.3 999.0h0M333.9 981.3h0M334.5 1008.2h0M335.0 974.7h0M335.6 979.7h0M336.2 998.5h0M336.7 970.4h0M337.3 975.9h0M337.9 970.3h0M338.4 978.7h0M339.0 981.2h0M339.6 975.0h0M340.1 988.3h0M340.7 946.0h0M341.2 996.2h0M341.8 950.7h0M342.4 958.8h0M342.9 963.9h0M343.5 977.1h0M344.1 971.0h0M344.6 985.4h0M345.2 971.2h0M345.8 971.2h0M346.3 971.6h0M346.9 989.8h0M347.5 978.5h0M348.0 959.0h0M348.6 972.9h0M349.2 957.0h0M349.7 980.7h0M350.3 979.9h0M350.9 988.7h0M351.4 962.0h0M352.0 985.8h0M352.6 957.4h0M353.1 973.4h0M353.7 992.7h0M354.3 975.7h0M354.8 988.1h0M355.4 956.1h0M356.0 959.7h0M356.5 992.6h0M357.1 975.5h0M357.7 962.3h0M358.2 949.9h0M358.8 984.4h0M359.4 951.2h0M359.9 947.8h0M360.5 979.9h0M361.1 958.5h0M361.6 970.5h0M362.2 987.2h0M362.8 970.9h0M363.3 970.2h0M363.9 988.0h0M364.5 979.9h0M365.0 976.9h0M365.6 965.4h0M366.2 972.9h0M366.7 970.4h0M367.3 943.2h0M367.9 954.0h0M368.4 943.9h0M369.0 974.0h0M369.5 960.5h0M370.1 971.7h0M370.7 977.3h0M371.2 968.9h0M371.8 979.4h0M372.4 985.1h0M372.9 977.7h0M373.5 1001.2h0M374.1 991.3h0M374.6 981.9h0M375.2 950.1h0M375.8 971.4h0M376.3 963.3h0M376.9 967.9h0M377.5 978.2h0M378.0 962.4h0M378.6 948.6h0M379.2 991.7h0M379.7 996.0h0M380.3 968.9h0M380.9 985.3h0M381.4 983.3h0M382.0 956.2h0M382.6 990.9h0M383.1 981.4h0M383.7 983.0h0M384.3 959.9h0M384.8 994.2h0M385.4 986.1h0M386.0 988.5h0M386.5 985.7h0M387.1 991.1h0M387.7 971.3h0M388.2 954.8h0M388.8 978.6h0M389.4 956.6h0M389.9 973.0h0M390.5 968.0h0M391.1 963.8h0M391.6 958.4h0M392.2 953.8h0M392.8 969.2h0M393.3 970.7h0M393.9 938.2h0M394.5 974.0h0M395.0 985.5h0M395.6 982.0h0M396.1 932.9h0M396.7 954.8h0M397.3 956.5h0M397.8 971.9h0M398.4 968.0h0M399.0 944.8h0M399.5 940.9h0M400.1 974.2h0M400.7 982.7h0M401.2 953.5h0M401.8 945.7h0M402.4 959.4h0M402.9 974.9h0M403.5 961.9h0M404.1 973.7h0M404.6 973.8h0M405.2 926.7h0M405.8 973.8h0M406.3 944.9h0M406.9 962.5h0M407.5 962.1h0M408.0 957.3h0M408.6 989.0h0M409.2 976.5h0M409.7 1007.9h0M410.3 969.4h0M410.9 974.0h0M411.4 979.3h0M412.0 1009.4h0M412.6 992.9h0M413.1 982.0h0M413.7 954.5h0M414.3 996.7h0M414.8 975.2h0M415.4 980.0h0M416.0 969.5h0M416.5 1008.4h0M417.1 988.0h0M417.7 989.7h0M418.2 1002.8h0M418.8 958.7h0M419.4 990.9h0M419.9 987.9h0M420.5 960.5h0M421.1 978.6h0M421.6 998.5h0M422.2 978.0h0M422.8 977.4h0M423.3 989.9h0M423.9 969.5h0M424.4 968.4h0M425.0 997.5h0M425.6 964.5h0M426.1 964.9h0M426.7 977.0h0M427.3 979.1h0M427.8 999.2h0M428.4 972.1h0M429.0 993.6h0M429.5 973.4h0M430.1 983.4h0M430.7 974.3h0M431.2 973.4h0M431.8 987.9h0M432.4 986.1h0M432.9 962.7h0M433.5 992.1h0M434.1 975.6h0M434.6 958.2h0M435.2 944.5h0M435.8 948.8h0M436.3 987.0h0M436.9 971.8h0M437.5 955.4h0M438.0 966.7h0M438.6 979.3h0M439.2 984.5h0M439.7 993.2h0M440.3 992.4h0M440.9 999.8h0M441.4 993.3h0M442.0 990.7h0M442.6 959.7h0M443.1 974.5h0M443.7 963.5h0M444.3 1001.1h0M444.8 980.5h0M445.4 978.4h0M446.0 983.2h0M446.5 981.1h0M447.1 984.6h0M447.7 958.2h0M448.2 998.5h0M448.8 998.8h0M449.4 993.2h0M449.9 966.9h0M450.5 970.1h0M451.1 977.4h0M451.6 972.8h0M452.2 978.8h0M452.8 956.9h0M453.3 952.9h0M453.9 965.9h0M454.4 962.3h0M455.0 978.0h0M455.6 968.4h0M456.1 974.3h0M456.7 994.3h0M457.3 998.3h0M457.8 944.0h0M458.4 968.7h0M459.0 956.7h0M459.5 971.5h0M460.1 977.7h0M460.7 989.0h0M461.2 968.0h0M461.8 974.7h0M462.4 973.5h0M462.9 973.4h0M463.5 963.4h0M464.1 993.0h0M464.6 981.8h0M465.2 962.9h0M465.8 986.9h0M466.3 958.4h0M466.9 967.2h0M467.5 958.2h0M468.0 982.8h0M468.6 966.5h0M469.2 959.9h0M469.7 959.8h0M470.3 970.7h0M470.9 963.2h0M471.4 976.6h0M472.0 955.0h0M472.6 985.7h0M473.1 974.9h0M473.7 979.1h0M474.3 975.6h0M474.8 994.7h0M475.4 970.8h0M476.0 958.9h0M476.5 941.0h0M477.1 978.6h0M477.7 968.9h0M478.2 973.0h0M478.8 938.7h0M479.4 969.5h0M479.9 980.6h0M480.5 974.6h0M481.1 956.6h0M481.6 979.5h0M482.2 949.9h0M482.7 1004.3h0M483.3 948.3h0M483.9 970.2h0M484.4 978.7h0M485.0 954.2h0M485.6 973.8h0M486.1 963.0h0M486.7 947.8h0M487.3 983.2h0M487.8 979.9h0M488.4 998.5h0M489.0 986.9h0M489.5 978.9h0M490.1 967.0h0M490.7 966.4h0M491.2 960.5h0M491.8 968.9h0M492.4 989.9h0M492.9 966.8h0M493.5 985.3h0M494.1 967.0h0M494.6 989.8h0M495.2 998.4h0M495.8 993.2h0M496.3 979.9h0M496.9 954.3h0M497.5 962.7h0M498.0 964.1h0M498.6 963.8h0M499.2 981.7h0M499.7 959.3h0M500.3 973.2h0M500.9 980.8h0M501.4 940.8h0M502.0 970.4h0M502.6 967.3h0M503.1 941.2h0M503.7 978.8h0M504.3 957.1h0M504.8 957.8h0M505.4 954.6h0M506.0 978.1h0M506.5 968.8h0M507.1 996.7h0M507.7 960.4h0M508.2 966.1h0M508.8 966.0h0M509.4 979.1h0M509.9 959.5h0M510.5 987.9h0M511.0 972.4h0M511.6 983.6h0M512.2 990.1h0M512.7 948.5h0M513.3 961.0h0M513.9 975.5h0M514.4 989.5h0M515.0 976.2h0M515.6 979.3h0M516.1 971.5h0M516.7 972.9h0M517.3 952.8h0M517.8 984.9h0M518.4 945.1h0M519.0 945.0h0M519.5 951.4h0M520.1 965.3h0M520.7 950.7h0M521.2 945.5h0M521.8 967.3h0M522.4 959.5h0M522.9 954.2h0M523.5 992.9h0M524.1 934.8h0M524.6 957.7h0M525.2 950.6h0M525.8 1006.2h0M526.3 982.4h0M526.9 951.0h0M527.5 962.5h0M528.0 960.5h0M528.6 974.6h0M529.2 967.4h0M529.7 967.3h0M530.3 935.6h0M530.9 986.9h0M531.4 941.6h0M532.0 966.3h0M532.6 977.2h0M533.1 968.2h0M533.7 964.8h0M534.3 946.0h0M534.8 962.0h0M535.4 972.5h0M536.0 951.2h0M536.5 960.1h0M537.1 949.5h0M537.6 938.9h0M538.2 960.1h0M538.8 944.3h0M539.3 966.5h0M539.9 954.0h0M540.5 957.1h0M541.0 961.5h0M541.6 950.3h0M542.2 939.0h0M542.7 973.2h0M543.3 959.4h0M543.9 960.9h0M544.4 965.5h0M545.0 949.9h0M545.6 978.5h0M546.1 974.2h0M546.7 970.6h0M547.3 957.0h0M547.8 987.8h0M548.4 948.9h0M549.0 977.4h0M549.5 981.9h0M550.1 973.6h0M550.7 942.5h0M551.2 974.4h0M551.8 955.5h0M552.4 952.2h0M552.9 989.8h0M553.5 952.7h0M554.1 976.9h0M554.6 956.9h0M555.2 953.3h0M555.8 977.4h0M556.3 952.1h0M556.9 983.6h0M557.5 949.2h0M558.0 984.5h0M558.6 959.4h0M559.2 980.6h0M559.7 982.1h0M560.3 975.9h0M560.9 983.9h0M561.4 981.2h0M562.0 984.9h0M562.6 981.7h0M563.1 991.5h0M563.7 986.8h0M564.3 994.2h0M564.8 976.5h0M565.4 970.4h0M566.0 952.8h0M566.5 945.3h0M567.1 955.7h0M567.6 950.2h0M568.2 961.1h0M568.8 937.0h0M569.3 961.8h0M569.9 974.5h0M570.5 942.8h0M571.0 953.4h0M571.6 943.6h0M572.2 964.6h0M572.7 983.8h0M573.3 974.2h0M573.9 946.5h0M574.4 983.0h0M575.0 985.2h0M575.6 953.5h0M576.1 954.8h0M576.7 979.6h0M577.3 985.2h0M577.8 969.0h0M578.4 986.7h0M579.0 1002.2h0M579.5 1001.7h0M580.1 969.7h0M580.7 967.3h0M581.2 947.6h0M581.8 990.1h0M582.4 949.3h0M582.9 982.5h0M583.5 987.5h0M584.1 988.6h0M584.6 959.4h0M585.2 986.9h0M585.8 988.1h0M586.3 948.5h0M586.9 981.5h0M587.5 958.3h0M588.0 976.1h0M588.6 981.2h0M589.2 945.7h0M589.7 950.5h0M590.3 959.3h0M590.9 957.2h0M591.4 983.0h0M592.0 980.7h0M592.6 981.0h0M593.1 987.5h0M593.7 950.6h0M594.2 957.6h0M594.8 975.1h0M595.4 939.3h0M595.9 973.7h0M596.5 968.7h0M597.1 949.3h0M597.6 944.5h0M598.2 953.4h0M598.8 951.2h0M599.3 938.7h0M599.9 943.6h0M600.5 969.6h0M601.0 951.2h0M601.6 963.8h0M602.2 932.7h0M602.7 935.7h0M603.3 963.8h0M603.9 986.0h0M604.4 967.2h0M605.0 958.5h0M605.6 947.0h0M606.1 970.8h0M606.7 985.7h0M607.3 974.6h0M607.8 991.1h0M608.4 986.7h0M609.0 989.8h0M609.5 977.9h0M610.1 980.3h0M610.7 952.3h0M611.2 972.2h0M611.8 982.3h0M612.4 962.2h0M612.9 991.0h0M613.5 965.0h0M614.1 953.7h0M614.6 976.1h0M615.2 982.2h0M615.8 985.6h0M616.3 971.6h0M616.9 936.0h0M617.5 946.3h0M618.0 983.6h0M618.6 947.4h0M619.2 948.5h0M619.7 988.5h0M620.3 962.0h0M620.9 996.3h0M621.4 957.9h0M622.0 957.5h0M622.5 968.0h0M623.1 957.1h0M623.7 998.9h0M624.2 950.2h0M624.8 976.4h0M625.4 952.6h0M625.9 994.9h0M626.5 963.4h0M627.1 954.1h0M627.6 997.0h0M628.2 982.3h0M628.8 957.2h0M629.3 971.7h0M629.9 981.3h0M630.5 964.8h0M631.0 981.9h0M631.6 976.5h0M632.2 954.6h0M632.7 945.4h0M633.3 969.2h0M633.9 968.9h0M634.4 987.5h0M635.0 954.2h0M635.6 976.1h0M636.1 980.9h0M636.7 989.1h0M637.3 964.4h0M637.8 972.6h0M638.4 938.5h0M639.0 957.2h0M639.5 957.3h0M640.1 977.8h0M640.7 973.3h0M641.2 977.4h0M641.8 954.0h0M642.4 972.7h0M642.9 985.7h0M643.5 969.0h0M644.1 973.6h0M644.6 944.4h0M645.2 972.7h0M645.8 977.3h0M646.3 980.2h0M646.9 974.6h0M647.5 978.6h0M648.0 969.9h0M648.6 954.7h0M649.2 1000.7h0M649.7 988.4h0M650.3 954.0h0M650.9 992.3h0M651.4 987.4h0M652.0 945.7h0M652.5 986.0h0M653.1 959.2h0M653.7 984.7h0M654.2 957.5h0M654.8 967.6h0M655.4 988.9h0M655.9 942.8h0M656.5 966.1h0M657.1 969.4h0M657.6 979.0h0M658.2 971.6h0M658.8 956.2h0M659.3 971.3h0M659.9 981.1h0M660.5 950.9h0M661.0 978.2h0M661.6 984.7h0M662.2 963.5h0M662.7 943.3h0M663.3 950.4h0M663.9 975.9h0M664.4 980.9h0M660.2 902.3h0M659.0 924.5h0M658.7 927.5h0M656.3 939.7h0" stroke="#2c6ecc" stroke-width="4.5" stroke-linecap="round" fill="none"/>
<path d="M99 804H665V1026.5H99ZM155.6 1026.5v-6M212.2 1026.5v-6M268.8 1026.5v-6M325.4 1026.5v-6M382.0 1026.5v-6M438.6 1026.5v-6M495.2 1026.5v-6M551.8 1026.5v-6M608.4 1026.5v-6M99 970.9h7M99 915.2h7M99 859.6h7" stroke="#000" stroke-width="2" fill="none"/>
<text x="87.5" y="979.4" font-size="27" text-anchor="end">1</text>
<text x="87.5" y="922.5" font-size="27" text-anchor="end">2</text>
<text x="87.5" y="867.1" font-size="27" text-anchor="end">3</text>
<text x="87.5" y="812.3" font-size="27" text-anchor="end">4</text>
<text x="88" y="1053" font-size="27" text-anchor="middle">0</text>
<text x="212.2" y="1053" font-size="27" text-anchor="middle">200</text>
<text x="325.4" y="1053" font-size="27" text-anchor="middle">400</text>
<text x="438.6" y="1053" font-size="27" text-anchor="middle">600</text>
<text x="551.8" y="1053" font-size="27" text-anchor="middle">800</text>
<text x="664.2" y="1053" font-size="27" text-anchor="middle">1 000</text>
<text x="382" y="1091" font-size="27" text-anchor="middle"><tspan fill="#3a3a3a">遗传时间</tspan>/<tspan fill="#3a3a3a">代数</tspan></text>
<text x="382" y="1134" font-size="27" text-anchor="middle">(c) <tspan fill="#3a3a3a">种群距离分散性</tspan></text>
<text transform="translate(26 915) rotate(-90)" font-size="27" text-anchor="middle"><tspan fill="#3a3a3a">平均距离</tspan></text>
</svg>
</body></html>
